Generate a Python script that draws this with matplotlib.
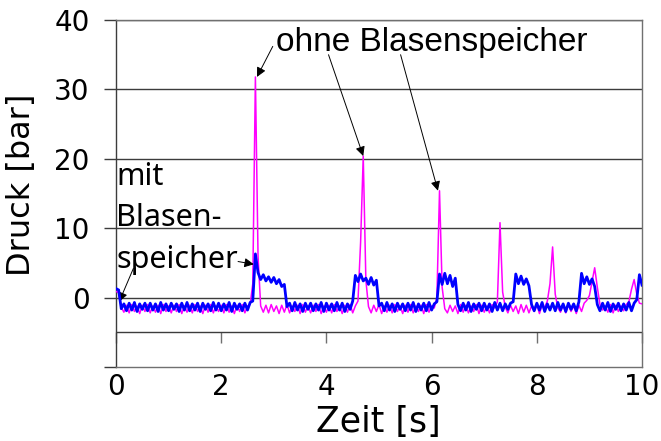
import numpy as np
import matplotlib
matplotlib.use("Agg")
import matplotlib.pyplot as plt

dt = 0.05

mit_speicher = [
    1.3, 1.1, -1.6, -0.9, -1.9, -0.8, -1.8, -0.7, -2.0, -0.9, -1.7, -0.8, -1.9, -0.8, -1.8, -0.9, -2.0, -0.7, -1.8, -0.9,
    -1.9, -0.8, -1.7, -0.9, -2.0, -0.8, -1.8, -0.7, -1.9, -0.9, -1.8, -0.8, -2.0, -0.8, -1.7, -0.9, -1.9, -0.7, -1.8, -0.8,
    -1.9, -0.9, -1.8, -0.7, -2.0, -0.8, -1.7, -0.9, -1.9, -0.8, -1.8, -0.7, -0.5, 6.3, 3.6, 2.6, 3.3, 2.4, 3.0, 2.2,
    2.9, 2.0, 2.6, 1.6, 1.9, -1.3, -0.8, -1.9, -0.7, -1.8, -0.9, -2.0, -0.8, -1.7, -0.8, -1.9, -0.9, -1.8, -0.7, -2.0,
    -0.8, -1.8, -0.9, -1.9, -0.7, -1.8, -0.8, -2.0, -0.9, -1.7, -0.5, 3.2, 2.3, 3.4, 2.4, 2.8, 1.9, 2.9, 1.8, 2.5,
    -1.2, -0.8, -1.9, -0.7, -1.8, -0.9, -2.0, -0.8, -1.7, -0.9, -1.9, -0.8, -1.8, -0.7, -2.0, -0.9, -1.8, -0.8, -1.9, -0.7,
    -1.8, -0.9, -0.6, 3.4, 1.9, 3.5, 2.0, 3.2, 1.6, 2.8, -1.0, -1.9, -0.8, -1.8, -0.7, -2.0, -0.9, -1.7, -0.8, -1.9,
    -0.8, -1.8, -0.9, -2.0, -0.7, -1.8, -0.8, -1.9, -0.9, -1.7, -0.8, -0.6, 3.4, 2.0, 3.1, 1.9, 2.7, 1.7, -1.0, -1.9,
    -0.8, -1.8, -0.7, -2.0, -0.9, -1.8, -0.8, -1.9, -0.7, -1.8, -0.9, -2.0, -0.8, -1.7, -0.9, -1.9, -0.6, 3.5, 2.0, 3.0,
    1.9, 2.7, 1.6, -1.0, -1.9, -0.8, -1.8, -0.7, -2.0, -0.9, -1.7, -0.8, -1.9, -0.9, -1.8, -0.7, -1.9, -0.8, -0.3, 3.3,
    1.8,
]

ohne_speicher = [
    0.9, 0.7, -1.4, -2.1, -1.1, -2.2, -1.0, -2.0, -1.2, -2.3, -1.1, -2.0, -1.0, -2.2, -1.2, -2.1, -1.1, -2.3, -1.0, -2.0,
    -1.2, -2.2, -1.1, -2.0, -1.0, -2.3, -1.2, -2.1, -1.1, -2.2, -1.0, -2.0, -1.2, -2.3, -1.1, -2.1, -1.0, -2.2, -1.2, -2.0,
    -1.1, -2.2, -1.0, -2.1, -1.2, -2.3, -1.1, -2.0, -1.0, -2.2, -1.2, -1.0, 2.0, 31.8, 6.0, -1.2, -2.1, -1.1, -2.2, -1.0,
    -2.0, -1.2, -2.3, -1.1, -2.1, -1.0, -2.2, -1.2, -2.0, -1.1, -2.3, -1.0, -2.1, -1.2, -2.2, -1.1, -2.0, -1.0, -2.3, -1.2,
    -2.1, -1.1, -2.2, -1.0, -2.0, -1.2, -2.3, -1.1, -2.1, -1.0, -2.2, -1.2, -0.5, 8.0, 20.4, 2.5, -1.3, -2.2, -1.1, -2.0,
    -1.0, -2.3, -1.2, -2.1, -1.1, -2.2, -1.0, -2.0, -1.2, -2.3, -1.1, -2.1, -1.0, -2.2, -1.2, -2.0, -1.1, -2.3, -1.0, -2.1,
    -1.2, -1.5, 0.0, 15.4, 1.5, -1.6, -2.2, -1.1, -2.0, -1.2, -2.3, -1.0, -2.1, -1.1, -2.2, -1.2, -2.0, -1.0, -2.3, -1.1,
    -2.1, -1.2, -2.2, -1.0, -1.5, -0.6, 10.8, 0.8, -1.4, -2.2, -1.1, -2.0, -1.2, -2.3, -1.0, -2.1, -1.1, -2.2, -1.2, -2.0,
    -1.0, -2.3, -1.1, -1.4, -0.5, 2.0, 7.3, 0.5, -1.5, -2.1, -1.1, -2.2, -1.0, -2.0, -1.2, -2.3, -1.1, -2.0, -0.8, -0.4,
    0.3, 2.3, 4.3, 1.5, -1.0, -1.8, -1.2, -2.1, -1.0, -2.2, -1.1, -2.0, -1.2, -1.9, -1.0, -0.6, 1.2, 2.6, 0.5, -0.8,
    -0.9,
]

zeit = np.arange(len(mit_speicher)) * dt

x_ticks = [0, 2, 4, 6, 8, 10]
y_ticks = [-10, 0, 10, 20, 30, 40]
y_ticklabels = ["", "0", "10", "20", "30", "40"]
grid_y = [40, 30, 20, 10, 0, -5]

BLAU = "#0000ff"
MAGENTA = "#ff00ff"
GRAU = "#3c3c3c"

fig = plt.figure(figsize=(6.61, 4.41), dpi=100)
ax = fig.add_axes([0.1755, 0.1678, 0.7958, 0.7868])

for g in grid_y:
    ax.axhline(g, color=GRAU, lw=1.0, zorder=1)

ax.plot(zeit, ohne_speicher, color=MAGENTA, lw=1.1, zorder=3)
ax.plot(zeit, mit_speicher, color=BLAU, lw=2.0, zorder=4)

ax.set_xlim(0, 10)
ax.set_ylim(-10, 40)

ax.set_xticks(x_ticks)
ax.set_xticklabels([str(v) for v in x_ticks])
ax.tick_params(axis="x", length=0, pad=4, labelsize=20)
ax.set_yticks(y_ticks)
ax.set_yticklabels(y_ticklabels)
ax.tick_params(axis="y", length=9, width=1.0, color=GRAU, pad=10, labelsize=20)

for s in ["top", "right", "bottom"]:
    ax.spines[s].set_color("#707070")
    ax.spines[s].set_linewidth(1.0)
ax.spines["left"].set_color(GRAU)
ax.spines["left"].set_linewidth(1.0)

# Zeitachse mit Strichen auf der -5-Linie
sec = ax.secondary_xaxis(0.1)
sec.set_xticks(x_ticks)
sec.set_xticklabels([])
sec.tick_params(axis="x", direction="out", length=8, width=1.0, color="#707070")
sec.spines["bottom"].set_visible(False)

fig.text(0.572, 0.043, "Zeit [s]", ha="center", va="center", fontsize=25)
fig.text(0.033, 0.58, "Druck [bar]", ha="center", va="center", fontsize=23, rotation=90)

# Beschriftungen
ax.text(3.05, 36.8, "ohne Blasenspeicher", ha="left", va="center",
        fontsize=24, family="Liberation Sans")
pfeil = dict(arrowstyle="-|>", color="black", lw=0.7, mutation_scale=14,
             shrinkA=0, shrinkB=0)
i1, i2, i3 = ohne_speicher.index(31.8), ohne_speicher.index(20.4), ohne_speicher.index(15.4)
ax.annotate("", xy=(zeit[i1] + 0.03, ohne_speicher[i1]), xytext=(2.98, 36.2), arrowprops=pfeil)
ax.annotate("", xy=(zeit[i2], ohne_speicher[i2]), xytext=(4.04, 35.0), arrowprops=pfeil)
ax.annotate("", xy=(zeit[i3] - 0.03, ohne_speicher[i3]), xytext=(5.41, 35.0), arrowprops=pfeil)

ax.text(0.0, 16.2, "mit", ha="left", va="baseline", fontsize=22, family="Noto Sans")
ax.text(0.0, 10.3, "Blasen-", ha="left", va="baseline", fontsize=22, family="Noto Sans")
ax.text(0.0, 4.2, "speicher", ha="left", va="baseline", fontsize=22, family="Noto Sans")
ax.annotate("", xy=(2.62, 4.8), xytext=(2.32, 5.2), arrowprops=pfeil)
ax.annotate("", xy=(0.06, -0.6), xytext=(0.33, 4.2), arrowprops=pfeil)

fig.savefig("out.png", dpi=100)
